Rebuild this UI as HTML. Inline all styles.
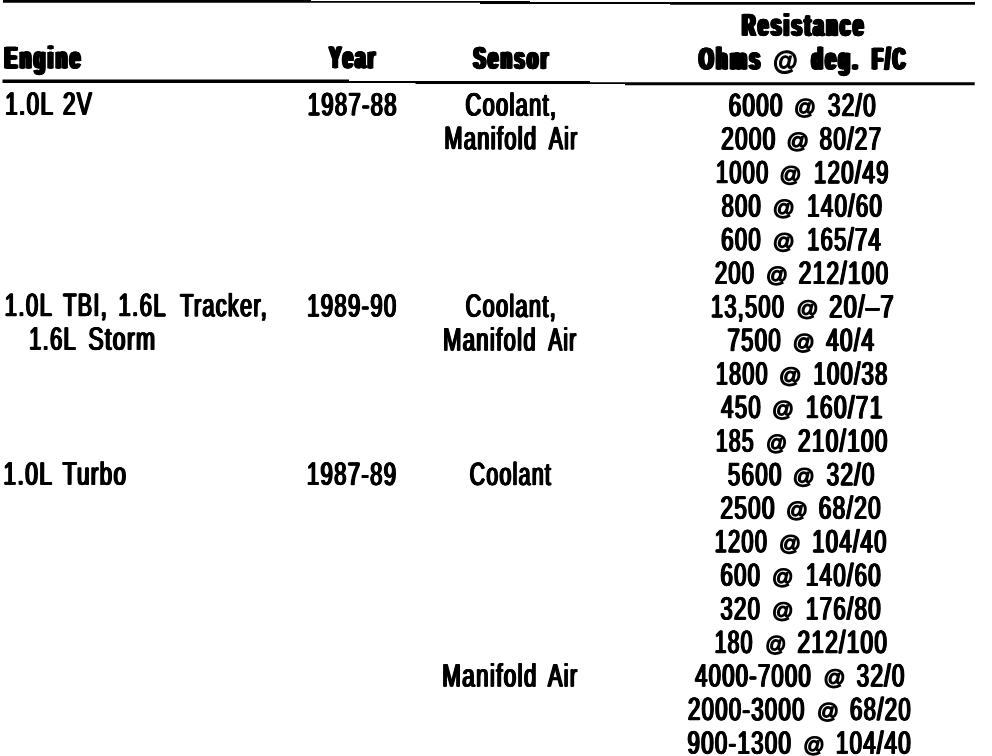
<!DOCTYPE html>
<html><head><meta charset="utf-8"><title>Resistance table</title>
<style>
html,body{margin:0;padding:0;background:#fff;}
body{width:992px;height:756px;position:relative;overflow:hidden;font-family:"Liberation Sans",sans-serif;color:#000;}
span{position:absolute;left:0;top:0;white-space:pre;transform-origin:0 0;line-height:1;display:block;}
svg{position:absolute;left:0;top:0;}
#t{position:absolute;left:0;top:0;width:992px;height:756px;will-change:transform;filter:contrast(4);}
.b{font-size:32.25px;-webkit-text-stroke:0.5px #000;letter-spacing:2.0px;text-shadow:0.68px 0 0 #000,-0.68px 0 0 #000,1.35px 0 0 #000,-1.35px 0 0 #000;}
.a{font-size:21.3px;-webkit-text-stroke:1.4px #000;}
.h{font-size:30.9px;font-weight:bold;-webkit-text-stroke:0.9px #000;letter-spacing:4.6px;text-shadow:0.80px 0 0 #000,-0.80px 0 0 #000,1.60px 0 0 #000,-1.60px 0 0 #000,2.40px 0 0 #000,-2.40px 0 0 #000,3.20px 0 0 #000,-3.20px 0 0 #000;}
.ha{font-size:26.0px;font-weight:bold;-webkit-text-stroke:1.1px #000;}
</style></head><body>
<svg width="992" height="756" viewBox="0 0 992 756"><polygon points="3,-1 311,-1 311,1 530,1 530,2 975,2 975,4.8 670,4.8 670,3.9 480,3.9 480,2.75 3,2.75" fill="#000"/><polygon points="2.5,79.6 349,79.6 349,81 590,81 590,82.25 974.7,82.25 974.7,85.25 625,85.25 625,84 415.5,84 415.5,83 2.5,83" fill="#000"/></svg>
<div id="t">
<span class="b" style="transform:translate(728.81px,89.03px) rotate(0.12deg) scaleX(0.6900)">6000</span>
<span class="a" style="transform:translate(794.02px,97.33px) rotate(0.12deg) scaleX(1.0150)">@</span>
<span class="b" style="transform:translate(827.91px,89.07px) rotate(0.12deg) scaleX(0.6949)">32/0</span>
<span class="b" style="transform:translate(721.31px,122.57px) rotate(0.12deg) scaleX(0.6931)">2000</span>
<span class="a" style="transform:translate(786.50px,130.89px) rotate(0.12deg) scaleX(1.0404)">@</span>
<span class="b" style="transform:translate(819.66px,122.62px) rotate(0.12deg) scaleX(0.6920)">80/27</span>
<span class="b" style="transform:translate(715.97px,156.12px) rotate(0.12deg) scaleX(0.6720)">1000</span>
<span class="a" style="transform:translate(779.52px,164.44px) rotate(0.12deg) scaleX(1.0150)">@</span>
<span class="b" style="transform:translate(813.96px,156.18px) rotate(0.12deg) scaleX(0.6865)">120/49</span>
<span class="b" style="transform:translate(721.65px,189.68px) rotate(0.12deg) scaleX(0.6757)">800</span>
<span class="a" style="transform:translate(772.77px,198.00px) rotate(0.12deg) scaleX(1.0150)">@</span>
<span class="b" style="transform:translate(807.21px,189.73px) rotate(0.12deg) scaleX(0.6879)">140/60</span>
<span class="b" style="transform:translate(721.31px,223.24px) rotate(0.12deg) scaleX(0.6815)">600</span>
<span class="a" style="transform:translate(772.77px,231.55px) rotate(0.12deg) scaleX(1.0150)">@</span>
<span class="b" style="transform:translate(807.22px,223.29px) rotate(0.12deg) scaleX(0.6765)">165/74</span>
<span class="b" style="transform:translate(715.06px,256.78px) rotate(0.12deg) scaleX(0.6730)">200</span>
<span class="a" style="transform:translate(766.02px,265.11px) rotate(0.12deg) scaleX(1.0150)">@</span>
<span class="b" style="transform:translate(798.81px,256.84px) rotate(0.12deg) scaleX(0.6952)">212/100</span>
<span class="b" style="transform:translate(710.97px,290.32px) rotate(0.12deg) scaleX(0.6719)">13,500</span>
<span class="a" style="transform:translate(796.52px,298.66px) rotate(0.12deg) scaleX(1.0150)">@</span>
<span class="b" style="transform:translate(829.31px,290.40px) rotate(0.12deg) scaleX(0.7240)">20/–7</span>
<span class="b" style="transform:translate(727.56px,323.91px) rotate(0.12deg) scaleX(0.6836)">7500</span>
<span class="a" style="transform:translate(792.77px,332.22px) rotate(0.12deg) scaleX(1.0150)">@</span>
<span class="b" style="transform:translate(826.26px,323.95px) rotate(0.12deg) scaleX(0.6935)">40/4</span>
<span class="b" style="transform:translate(715.97px,357.46px) rotate(0.12deg) scaleX(0.6624)">1800</span>
<span class="a" style="transform:translate(779.00px,365.77px) rotate(0.12deg) scaleX(1.0404)">@</span>
<span class="b" style="transform:translate(813.47px,357.51px) rotate(0.12deg) scaleX(0.6796)">100/38</span>
<span class="b" style="transform:translate(721.25px,391.03px) rotate(0.12deg) scaleX(0.6826)">450</span>
<span class="a" style="transform:translate(772.02px,399.33px) rotate(0.12deg) scaleX(1.0150)">@</span>
<span class="b" style="transform:translate(805.96px,391.06px) rotate(0.12deg) scaleX(0.7031)">160/71</span>
<span class="b" style="transform:translate(715.98px,424.59px) rotate(0.12deg) scaleX(0.6501)">185</span>
<span class="a" style="transform:translate(766.06px,432.88px) rotate(0.12deg) scaleX(0.9769)">@</span>
<span class="b" style="transform:translate(798.06px,424.62px) rotate(0.12deg) scaleX(0.6952)">210/100</span>
<span class="b" style="transform:translate(727.91px,458.16px) rotate(0.12deg) scaleX(0.6887)">5600</span>
<span class="a" style="transform:translate(792.77px,466.44px) rotate(0.12deg) scaleX(1.0150)">@</span>
<span class="b" style="transform:translate(826.66px,458.17px) rotate(0.12deg) scaleX(0.6949)">32/0</span>
<span class="b" style="transform:translate(720.56px,491.71px) rotate(0.12deg) scaleX(0.6931)">2500</span>
<span class="a" style="transform:translate(786.02px,499.99px) rotate(0.12deg) scaleX(1.0150)">@</span>
<span class="b" style="transform:translate(818.81px,491.73px) rotate(0.12deg) scaleX(0.6976)">68/20</span>
<span class="b" style="transform:translate(714.72px,525.26px) rotate(0.12deg) scaleX(0.6720)">1200</span>
<span class="a" style="transform:translate(779.02px,533.55px) rotate(0.12deg) scaleX(1.0150)">@</span>
<span class="b" style="transform:translate(812.22px,525.28px) rotate(0.12deg) scaleX(0.6834)">104/40</span>
<span class="b" style="transform:translate(720.56px,558.82px) rotate(0.12deg) scaleX(0.6815)">600</span>
<span class="a" style="transform:translate(772.05px,567.10px) rotate(0.12deg) scaleX(0.9896)">@</span>
<span class="b" style="transform:translate(805.96px,558.84px) rotate(0.12deg) scaleX(0.6879)">140/60</span>
<span class="b" style="transform:translate(720.41px,592.38px) rotate(0.12deg) scaleX(0.6842)">320</span>
<span class="a" style="transform:translate(772.05px,600.66px) rotate(0.12deg) scaleX(0.9896)">@</span>
<span class="b" style="transform:translate(805.96px,592.39px) rotate(0.12deg) scaleX(0.6879)">176/80</span>
<span class="b" style="transform:translate(714.73px,625.94px) rotate(0.12deg) scaleX(0.6530)">180</span>
<span class="a" style="transform:translate(765.31px,634.21px) rotate(0.12deg) scaleX(0.9769)">@</span>
<span class="b" style="transform:translate(797.56px,625.95px) rotate(0.12deg) scaleX(0.6952)">212/100</span>
<span class="b" style="transform:translate(695.24px,659.49px) rotate(0.12deg) scaleX(0.6783)">4000-7000</span>
<span class="a" style="transform:translate(823.52px,667.77px) rotate(0.12deg) scaleX(1.0150)">@</span>
<span class="b" style="transform:translate(856.66px,659.50px) rotate(0.12deg) scaleX(0.6949)">32/0</span>
<span class="b" style="transform:translate(688.06px,693.05px) rotate(0.12deg) scaleX(0.6838)">2000-3000</span>
<span class="a" style="transform:translate(817.02px,701.32px) rotate(0.12deg) scaleX(1.0150)">@</span>
<span class="b" style="transform:translate(850.06px,693.06px) rotate(0.12deg) scaleX(0.6837)">68/20</span>
<span class="b" style="transform:translate(687.56px,726.61px) rotate(0.12deg) scaleX(0.6879)">900-1300</span>
<span class="a" style="transform:translate(803.30px,734.88px) rotate(0.12deg) scaleX(0.9896)">@</span>
<span class="b" style="transform:translate(835.96px,726.61px) rotate(0.12deg) scaleX(0.6879)">104/40</span>
<span class="b" style="transform:translate(5.21px,87.77px) rotate(0.12deg) scaleX(0.6942)">1.0L</span>
<span class="b" style="transform:translate(63.06px,87.83px) rotate(0.12deg) scaleX(0.6930)">2V</span>
<span class="b" style="transform:translate(4.71px,288.89px) rotate(0.12deg) scaleX(0.6869)">1.0L</span>
<span class="b" style="transform:translate(63.23px,288.96px) rotate(0.12deg) scaleX(0.6688)">TBI,</span>
<span class="b" style="transform:translate(118.46px,289.07px) rotate(0.12deg) scaleX(0.6869)">1.6L</span>
<span class="b" style="transform:translate(180.23px,289.20px) rotate(0.12deg) scaleX(0.6695)">Tracker,</span>
<span class="b" style="transform:translate(29.22px,322.61px) rotate(0.12deg) scaleX(0.6761)">1.6L</span>
<span class="b" style="transform:translate(88.42px,322.72px) rotate(0.12deg) scaleX(0.7087)">Storm</span>
<span class="b" style="transform:translate(3.46px,457.59px) rotate(0.12deg) scaleX(0.7050)">1.0L</span>
<span class="b" style="transform:translate(62.76px,457.61px) rotate(0.12deg) scaleX(0.6951)">Turbo</span>
<span class="b" style="transform:translate(307.72px,88.27px) rotate(0.12deg) scaleX(0.6815)">1987-88</span>
<span class="b" style="transform:translate(307.22px,289.47px) rotate(0.12deg) scaleX(0.6827)">1989-90</span>
<span class="b" style="transform:translate(306.92px,457.81px) rotate(0.12deg) scaleX(0.6838)">1987-89</span>
<span class="b" style="transform:translate(465.56px,88.56px) rotate(0.12deg) scaleX(0.6747)">Coolant,</span>
<span class="b" style="transform:translate(444.38px,122.10px) rotate(0.12deg) scaleX(0.6752)">Manifold</span>
<span class="b" style="transform:translate(549.03px,122.28px) rotate(0.12deg) scaleX(0.6458)">Air</span>
<span class="b" style="transform:translate(465.66px,289.80px) rotate(0.12deg) scaleX(0.6717)">Coolant,</span>
<span class="b" style="transform:translate(443.12px,323.38px) rotate(0.12deg) scaleX(0.6808)">Manifold</span>
<span class="b" style="transform:translate(548.52px,323.58px) rotate(0.12deg) scaleX(0.6350)">Air</span>
<span class="b" style="transform:translate(469.76px,457.95px) rotate(0.12deg) scaleX(0.6586)">Coolant</span>
<span class="b" style="transform:translate(442.36px,659.42px) rotate(0.12deg) scaleX(0.6919)">Manifold</span>
<span class="b" style="transform:translate(548.07px,659.45px) rotate(0.12deg) scaleX(0.6673)">Air</span>
<span class="h" style="transform:translate(4.78px,43.15px) rotate(0.12deg) scaleX(0.5991)">Engine</span>
<span class="h" style="transform:translate(329.32px,43.05px) rotate(0.12deg) scaleX(0.5762)">Year</span>
<span class="h" style="transform:translate(473.59px,43.55px) rotate(0.12deg) scaleX(0.5815)">Sensor</span>
<span class="h" style="transform:translate(742.27px,10.55px) rotate(0.12deg) scaleX(0.5916)">Resistance</span>
<span class="h" style="transform:translate(699.11px,44.25px) rotate(0.12deg) scaleX(0.5989)">Ohms</span>
<span class="ha" style="transform:translate(773.10px,47.14px) rotate(0.12deg) scaleX(0.9748)">@</span>
<span class="h" style="transform:translate(811.60px,44.25px) rotate(0.12deg) scaleX(0.5958)">deg.</span>
<span class="h" style="transform:translate(872.21px,44.25px) rotate(0.12deg) scaleX(0.5607)">F/C</span>
</div>
</body></html>
